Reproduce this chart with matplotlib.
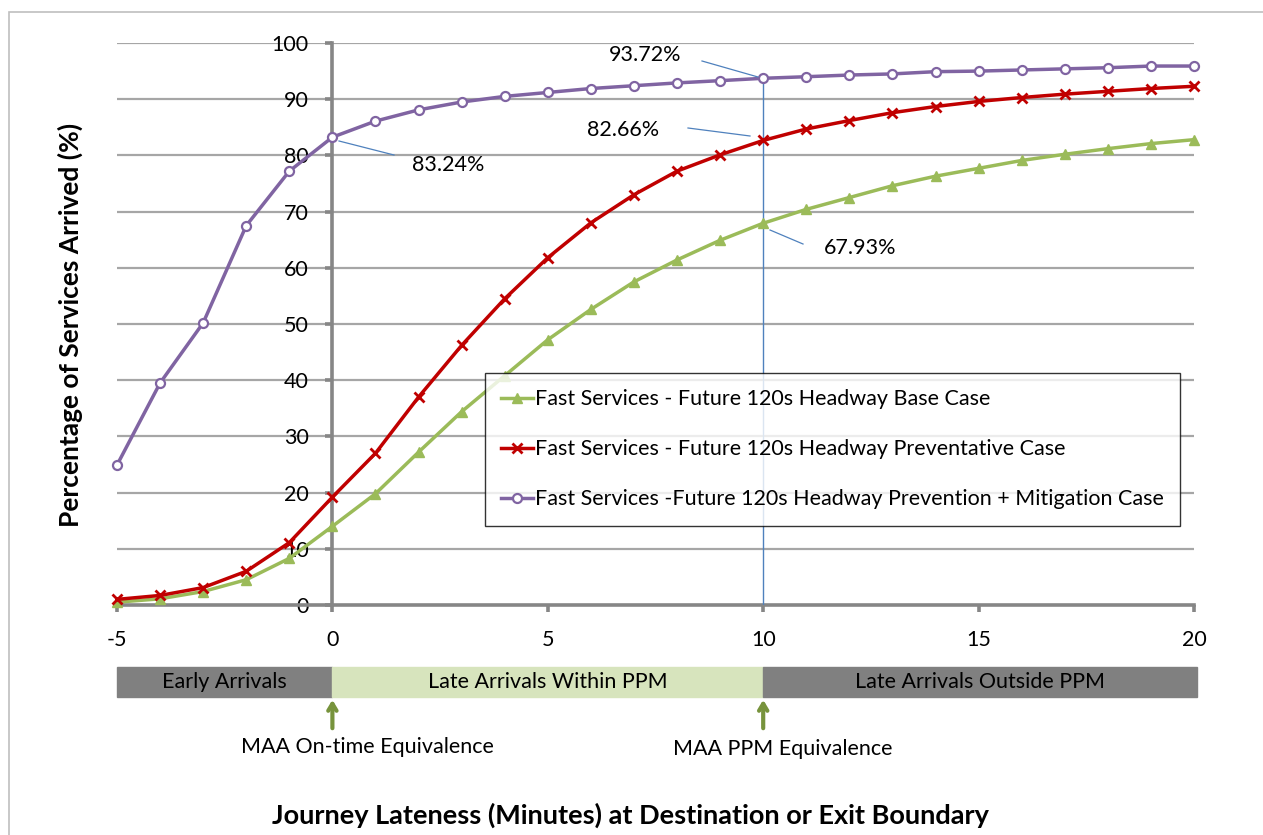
import numpy as np
import matplotlib
matplotlib.use("Agg")
import matplotlib.pyplot as plt
from matplotlib.patches import Rectangle

plt.rcParams['font.family'] = ['Lato', 'DejaVu Sans']
plt.rcParams['axes.unicode_minus'] = False

# journey lateness, minutes
lateness = list(range(-5, 21))

base_case = [0.5, 1.1, 2.4, 4.5, 8.3, 14.0, 19.8, 27.2, 34.4, 40.8, 47.2, 52.6, 57.5,
             61.4, 64.9, 67.93, 70.4, 72.5, 74.6, 76.3, 77.7, 79.1, 80.2, 81.2, 82.1, 82.8]
preventative = [1.0, 1.7, 3.1, 6.0, 11.1, 19.2, 27.0, 37.0, 46.2, 54.5, 61.8, 68.0, 73.0,
                77.2, 80.1, 82.66, 84.7, 86.2, 87.6, 88.7, 89.6, 90.3, 90.9, 91.4, 91.9, 92.3]
mitigation = [24.9, 39.5, 50.2, 67.5, 77.2, 83.24, 86.1, 88.1, 89.5, 90.5, 91.2, 91.9, 92.4,
              92.9, 93.3, 93.72, 94.0, 94.3, 94.5, 94.9, 95.0, 95.2, 95.4, 95.6, 95.9, 95.9]

series_labels = ["Fast Services - Future 120s Headway Base Case",
                 "Fast Services - Future 120s Headway Preventative Case",
                 "Fast Services -Future 120s Headway Prevention + Mitigation Case"]

bands = [(-5, 0, "Early Arrivals"), (0, 10, "Late Arrivals Within PPM"), (10, 20.07, "Late Arrivals Outside PPM")]
band_colors = ['#808080', '#d7e4bd', '#808080']

W, H = 1263, 835
fig = plt.figure(figsize=(W / 100, H / 100), dpi=100)
fs = 15.5

def fx(px):
    return px / W

def fy(py):
    return 1 - py / H

ax = fig.add_axes([fx(117), fy(605), fx(1194) - fx(117), fy(43) - fy(605)])
ax.set_xlim(-5, 20)
ax.set_ylim(0, 100)

grid_c = '#a6a6a6'
axis_c = '#868686'
for v in range(10, 101, 10):
    ax.axhline(v, color=grid_c, lw=1.6, zorder=1)

green, red, purple = '#9bbb59', '#c00000', '#8064a2'
ax.plot(lateness, base_case, color=green, lw=2.5, marker='^', ms=7, mec=green,
        clip_on=False, zorder=4, label=series_labels[0])
ax.plot(lateness, preventative, color=red, lw=2.5, marker='x', ms=7, mew=2,
        clip_on=False, zorder=5, label=series_labels[1])
ax.plot(lateness, mitigation, color=purple, lw=2.5, marker='o', ms=6.5, mfc='white',
        mec=purple, mew=1.6, clip_on=False, zorder=6, label=series_labels[2])

for s in ['top', 'right']:
    ax.spines[s].set_visible(False)
ax.spines['left'].set_position(('data', 0))
ax.spines['left'].set_color(axis_c)
ax.spines['left'].set_linewidth(2.6)
ax.spines['bottom'].set_color(axis_c)
ax.spines['bottom'].set_linewidth(2.6)
ax.set_xticks(range(-5, 21, 5))
ax.set_yticks(range(0, 101, 10))
ax.tick_params(axis='x', length=5, width=2.6, color=axis_c, pad=13, labelsize=fs)
ax.tick_params(axis='y', length=5, width=2.6, color=axis_c, pad=12, labelsize=fs)

# PPM marker line and callouts
blue = '#4f81bd'
ax.plot([10, 10], [0, mitigation[15]], color=blue, lw=1, zorder=3)
callouts = [(0, mitigation[5], 448, 165, (339, 141), (394, 155)),
            (10, mitigation[15], 645, 55, (702, 61), (758, 77)),
            (10, preventative[15], 623, 130, (688, 128), (750, 136)),
            (10, base_case[15], 860, 248, (770, 230), (803, 244))]
for xv, yv, tx, ty, p1, p2 in callouts:
    fig.text(fx(tx), fy(ty), f"{yv:.2f}%", ha='center', va='center', fontsize=fs)
    fig.add_artist(plt.Line2D([fx(p1[0]), fx(p2[0])], [fy(p1[1]), fy(p2[1])], color=blue, lw=0.9))

leg = fig.legend(loc='upper left', bbox_to_anchor=(fx(485), fy(373)), fontsize=fs,
                 frameon=True, fancybox=False, handlelength=1.5, handletextpad=0.05,
                 labelspacing=1.4, borderpad=0.75, borderaxespad=0)
leg.get_frame().set_edgecolor('black')
leg.get_frame().set_linewidth(1)

# lateness bands
bax = fig.add_axes([fx(117), fy(697), fx(1194) - fx(117), fy(667) - fy(697)])
bax.set_xlim(-5, 20)
bax.set_ylim(0, 1)
bax.axis('off')
for (x0, x1, lab), c in zip(bands, band_colors):
    bax.add_patch(Rectangle((x0, 0), x1 - x0, 1, color=c, clip_on=False))
    bax.text((x0 + x1) / 2, 0.5, lab, ha='center', va='center', fontsize=fs)

arrow_c = '#77933c'
for xv in [0, 10]:
    bax.annotate('', xy=(xv, 0), xycoords=('data', 'axes fraction'),
                 xytext=(0, -34), textcoords='offset pixels',
                 arrowprops=dict(arrowstyle='->,head_length=0.5,head_width=0.3', lw=3, color=arrow_c))
fig.text(fx(367), fy(747), "MAA On-time Equivalence", ha='center', va='center', fontsize=fs)
fig.text(fx(783), fy(749), "MAA PPM Equivalence", ha='center', va='center', fontsize=fs)

fig.text(fx(630), fy(815), "Journey Lateness (Minutes) at Destination or Exit Boundary",
         ha='center', va='center', fontsize=19.5, fontweight='bold')
fig.text(fx(70), fy(325), "Percentage of Services Arrived (%)", ha='center', va='center',
         rotation=90, fontsize=19, fontweight='bold')

fig.add_artist(Rectangle((fx(9), -0.1), 1.2, fy(12) + 0.1, fill=False, ec='#bfbfbf', lw=1.2))

fig.savefig("out.png", dpi=100)
